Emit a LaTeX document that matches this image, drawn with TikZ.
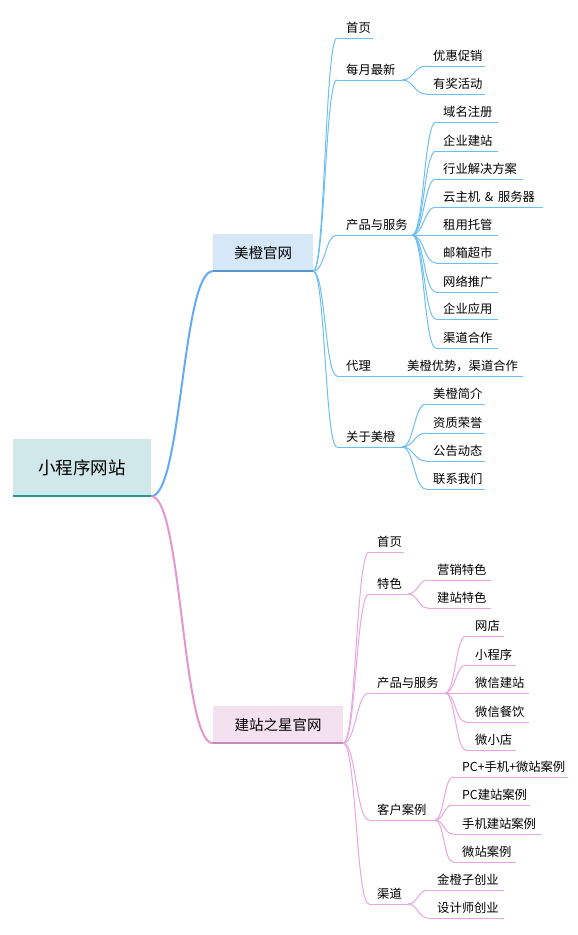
\documentclass[tikz,border=0pt]{standalone}
\usepackage{fontspec}
\newfontfamily\cjk{Noto Sans CJK SC}
\usepackage{tikz}
\usetikzlibrary{calc}
\definecolor{lineblue}{RGB}{110,190,245}
\definecolor{linepink}{RGB}{234,166,224}
\definecolor{rootfill}{RGB}{209,232,234}
\definecolor{rootbar}{RGB}{38,150,150}
\definecolor{mcfill}{RGB}{214,231,247}
\definecolor{mcbar}{RGB}{88,150,205}
\definecolor{jzfill}{RGB}{243,225,239}
\definecolor{jzbar}{RGB}{196,138,187}
\begin{document}
\begin{tikzpicture}[x=1pt, y=-1pt,
  conn/.style={to path={let \p1=(\tikztostart), \p2=(\tikztotarget) in
    .. controls ({(\x1+\x2)/2},\y1) and ({(\x1+\x2)/2},\y2) .. (\tikztotarget)}},
  bline/.style={draw=lineblue, line width=1pt},
  pline/.style={draw=linepink, line width=1pt},
  topic/.style={anchor=west, inner sep=0pt, font=\cjk\fontsize{12.3}{14}\selectfont},
  mainbox/.style={inner sep=0pt, font=\cjk\fontsize{14.5}{16}\selectfont, minimum height=37pt}]
  \useasboundingbox (0,0) rectangle (578,935);

  % root and the two sites
  \node[fill=rootfill, inner sep=0pt, minimum width=138pt, minimum height=57pt,
    font=\cjk\fontsize{17.5}{20}\selectfont] (root) at (82,467.5) {小程序网站};
  \node[mainbox, fill=mcfill, minimum width=100pt] (mc) at (263,252.5) {美橙官网};
  \node[mainbox, fill=jzfill, minimum width=130pt] (jz) at (278,724.5) {建站之星官网};

  % main branches
  \draw[draw=lineblue!90!blue, line width=2pt] (root.south east) to[conn] (mc.south west);
  \draw[draw=linepink!90!purple, line width=2pt] (root.south east) to[conn] (jz.south west);
  \draw[rootbar, line width=2.5pt] (root.south west) -- (root.south east);
  \draw[mcbar, line width=2.5pt] (mc.south west) -- (mc.south east);
  \draw[jzbar, line width=2.5pt] (jz.south west) -- (jz.south east);

  % ---- 美橙官网 ----
  \foreach \nm/\yy/\xe/\txt in {bsy/38/373/首页, bmz/80/402/每月最新, bcp/235/412/产品与服务,
      bdl/376/402/代理, bgy/447/402/关于美橙}{
    \coordinate (\nm-l) at (337,\yy);
    \coordinate (\nm-r) at (\xe,\yy);
    \draw[bline] (\nm-l) -- (\nm-r);
    \draw[bline] (mc.south east) to[conn] (\nm-l);
    \node[topic] (\nm) at ($(\nm-l)+(9,-10)$) {\txt};
  }
  \foreach \nm/\yy/\xe/\txt in {byh/66/485/优惠促销, byj/94/485/有奖活动}{
    \coordinate (\nm-l) at (426,\yy);
    \coordinate (\nm-r) at (\xe,\yy);
    \draw[bline] (\nm-l) -- (\nm-r);
    \draw[bline] (bmz-r) to[conn] (\nm-l);
    \node[topic] (\nm) at ($(\nm-l)+(7,-10)$) {\txt};
  }
  \foreach \nm/\yy/\xe/\txt in {bym/122/498/域名注册, bqj/151/498/企业建站, bhy/179/523/行业解决方案,
      bzj/207/543/云主机 \,\&\, 服务器, bzy/235/498/租用托管, byx/263/498/邮箱超市,
      bwl/292/498/网络推广, bqy/319/498/企业应用, bqd/348/498/渠道合作}{
    \coordinate (\nm-l) at (436,\yy);
    \coordinate (\nm-r) at (\xe,\yy);
    \draw[bline] (\nm-l) -- (\nm-r);
    \draw[bline] (bcp-r) to[conn] (\nm-l);
    \node[topic] (\nm) at ($(\nm-l)+(7,-10)$) {\txt};
  }
  \coordinate (bys-l) at (402,376);
  \coordinate (bys-r) at (523,376);
  \draw[bline] (bdl-r) -- (bys-l) -- (bys-r);
  \node[topic] (bys) at ($(bys-l)+(5,-10)$) {美橙优势，渠道合作};
  \foreach \nm/\yy/\xe/\txt in {bjj/404/485/美橙简介, bzz/433/485/资质荣誉, bgg/461/485/公告动态,
      blx/489/485/联系我们}{
    \coordinate (\nm-l) at (426,\yy);
    \coordinate (\nm-r) at (\xe,\yy);
    \draw[bline] (\nm-l) -- (\nm-r);
    \draw[bline] (bgy-r) to[conn] (\nm-l);
    \node[topic] (\nm) at ($(\nm-l)+(7,-10)$) {\txt};
  }

  % ---- 建站之星官网 ----
  \foreach \nm/\yy/\xe/\txt in {psy/552/404/首页, pts/594/408/特色, pcp/693/445/产品与服务,
      pkh/820/435/客户案例, pqd/904/408/渠道}{
    \coordinate (\nm-l) at (369,\yy);
    \coordinate (\nm-r) at (\xe,\yy);
    \draw[pline] (\nm-l) -- (\nm-r);
    \draw[pline] (jz.south east) to[conn] (\nm-l);
    \node[topic] (\nm) at ($(\nm-l)+(8,-10)$) {\txt};
  }
  \foreach \nm/\yy/\xe/\txt in {pyx/580/491/营销特色, pjz/608/491/建站特色}{
    \coordinate (\nm-l) at (428,\yy);
    \coordinate (\nm-r) at (\xe,\yy);
    \draw[pline] (\nm-l) -- (\nm-r);
    \draw[pline] (pts-r) to[conn] (\nm-l);
    \node[topic] (\nm) at ($(\nm-l)+(9,-10)$) {\txt};
  }
  \foreach \nm/\yy/\xe/\txt in {pwd/636/504/网店, pxc/665/516/小程序, pwj/693/529/微信建站,
      pwc/722/529/微信餐饮, pwx/750/516/微小店}{
    \coordinate (\nm-l) at (466,\yy);
    \coordinate (\nm-r) at (\xe,\yy);
    \draw[pline] (\nm-l) -- (\nm-r);
    \draw[pline] (pcp-r) to[conn] (\nm-l);
    \node[topic] (\nm) at ($(\nm-l)+(9,-10)$) {\txt};
  }
  \foreach \nm/\yy/\xe/\txt in {ppc/777/568/PC+手机+微站案例, ppj/805/530/PC建站案例,
      psj/834/541/手机建站案例, pwz/862/516/微站案例}{
    \coordinate (\nm-l) at (453,\yy);
    \coordinate (\nm-r) at (\xe,\yy);
    \draw[pline] (\nm-l) -- (\nm-r);
    \draw[pline] (pkh-r) to[conn] (\nm-l);
    \node[topic] (\nm) at ($(\nm-l)+(9,-10)$) {\txt};
  }
  \foreach \nm/\yy/\xe/\txt in {pjc/890/504/金橙子创业, psc/918/504/设计师创业}{
    \coordinate (\nm-l) at (428,\yy);
    \coordinate (\nm-r) at (\xe,\yy);
    \draw[pline] (\nm-l) -- (\nm-r);
    \draw[pline] (pqd-r) to[conn] (\nm-l);
    \node[topic] (\nm) at ($(\nm-l)+(9,-10)$) {\txt};
  }
\end{tikzpicture}
\end{document}
